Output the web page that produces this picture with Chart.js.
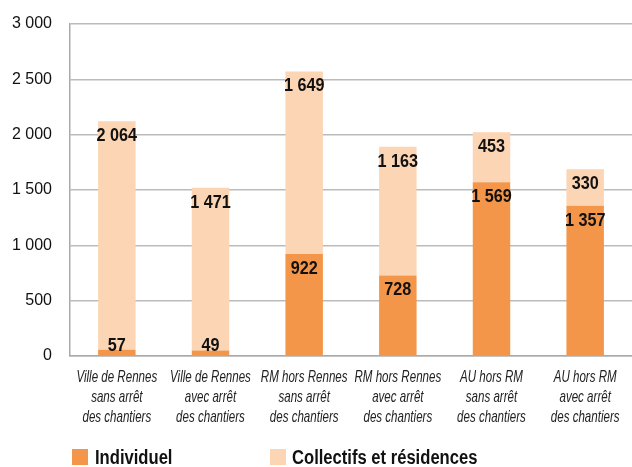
<!DOCTYPE html>
<html>
<head>
<meta charset="utf-8">
<script src="https://cdn.jsdelivr.net/npm/chart.js@4"></script>
<style>
  html, body { margin: 0; padding: 0; background: #fff; }
  #wrap { position: relative; width: 632px; height: 467px; }
  #legend { position: absolute; top: 448px; left: 0; width: 632px; height: 20px;
    font-family: "Liberation Sans", Arial, sans-serif; font-weight: bold; font-size: 20px; color: #111; }
  .item { position: absolute; top: 0; height: 20px; }
  .sw { position: absolute; left: 0; top: 1px; width: 16px; height: 16px; }
  .tx { position: absolute; top: -2px; white-space: nowrap; transform: scaleX(0.83); transform-origin: left center; }
</style>
</head>
<body>
<div id="wrap">
  <canvas id="myChart" width="632" height="467"></canvas>
  <div id="legend"></div>
</div>
<script>
const categories = [
    ['Ville de Rennes', 'sans arrêt', 'des chantiers'],
    ['Ville de Rennes', 'avec arrêt', 'des chantiers'],
    ['RM hors Rennes', 'sans arrêt', 'des chantiers'],
    ['RM hors Rennes', 'avec arrêt', 'des chantiers'],
    ['AU hors RM', 'sans arrêt', 'des chantiers'],
    ['AU hors RM', 'avec arrêt', 'des chantiers']
];
const individuel = [57, 49, 922, 728, 1569, 1357];
const collectifs = [2064, 1471, 1649, 1163, 453, 330];
const seriesNames = ['Individuel', 'Collectifs et résidences'];
const colors = ['#F39649', '#FCD5B4'];

const sans = '"Liberation Sans", Arial, sans-serif';

function fmt(v) {
    return String(v).replace(/\B(?=(\d{3})+(?!\d))/g, ' ');
}

// no condensed font installed, so text is squeezed horizontally
function narrowText(ctx, text, x, y, sx) {
    ctx.save();
    ctx.translate(x, y);
    ctx.scale(sx, 1);
    ctx.fillText(text, 0, 0);
    ctx.restore();
}

// values drawn on each segment, just under its top
const labelPlugin = {
    id: 'segLabels',
    afterDatasetsDraw(chart) {
        const ctx = chart.ctx;
        const base = chart.scales.y.getPixelForValue(0);
        ctx.save();
        ctx.font = 'bold 18px ' + sans;
        ctx.fillStyle = '#111';
        ctx.textAlign = 'center';
        ctx.textBaseline = 'middle';
        chart.data.datasets.forEach(function (ds, i) {
            chart.getDatasetMeta(i).data.forEach(function (bar, j) {
                const y = Math.min(bar.y + 15, base - 10);
                narrowText(ctx, fmt(ds.data[j]), bar.x, y, 0.9);
            });
        });
        ctx.restore();
    }
};

// category labels, italic condensed look
const xLabelPlugin = {
    id: 'xLabels',
    afterDraw(chart) {
        const ctx = chart.ctx;
        const xs = chart.scales.x;
        const top = chart.chartArea.bottom + 21;
        ctx.save();
        ctx.font = 'italic 17px ' + sans;
        ctx.fillStyle = '#222';
        ctx.textAlign = 'center';
        ctx.textBaseline = 'middle';
        chart.data.labels.forEach(function (lines, i) {
            const x = xs.getPixelForTick(i);
            lines.forEach(function (line, k) {
                narrowText(ctx, line, x, top + k * 20, 0.68);
            });
        });
        ctx.restore();
    }
};

const ctx = document.getElementById('myChart').getContext('2d');
new Chart(ctx, {
    type: 'bar',
    data: {
        labels: categories,
        datasets: [{
            label: seriesNames[0],
            data: individuel,
            backgroundColor: colors[0],
            barPercentage: 0.4,
            categoryPercentage: 1
        }, {
            label: seriesNames[1],
            data: collectifs,
            backgroundColor: colors[1],
            barPercentage: 0.4,
            categoryPercentage: 1
        }]
    },
    options: {
        responsive: false,
        animation: false,
        layout: { padding: { top: 24, right: 0, bottom: 0, left: 0 } },
        plugins: {
            legend: { display: false },
            tooltip: { enabled: false }
        },
        scales: {
            x: {
                stacked: true,
                grid: { display: false, drawTicks: false },
                border: { color: '#aaa', width: 1.5 },
                ticks: { display: false },
                afterFit: function (scale) { scale.height = 111; }
            },
            y: {
                stacked: true,
                min: 0,
                max: 3000,
                ticks: {
                    stepSize: 500,
                    color: '#111',
                    padding: 18,
                    font: { family: sans, size: 16 },
                    callback: function (v) { return fmt(v); }
                },
                grid: { color: '#bbb', lineWidth: 1.5, drawTicks: false },
                border: { color: '#aaa', width: 1.5 },
                afterFit: function (scale) {
                    scale.width = 70;
                    scale.paddingTop = 0;
                    scale.paddingBottom = 0;
                }
            }
        }
    },
    plugins: [labelPlugin, xLabelPlugin]
});

const legend = document.getElementById('legend');
const lefts = [72, 270];
seriesNames.forEach(function (name, i) {
    const item = document.createElement('div');
    item.className = 'item';
    item.style.left = lefts[i] + 'px';
    item.innerHTML = '<span class="sw" style="background:' + colors[i] + '"></span>' +
        '<span class="tx" style="left:' + (i === 0 ? 23 : 22) + 'px">' + name + '</span>';
    legend.appendChild(item);
});
</script>
</body>
</html>
